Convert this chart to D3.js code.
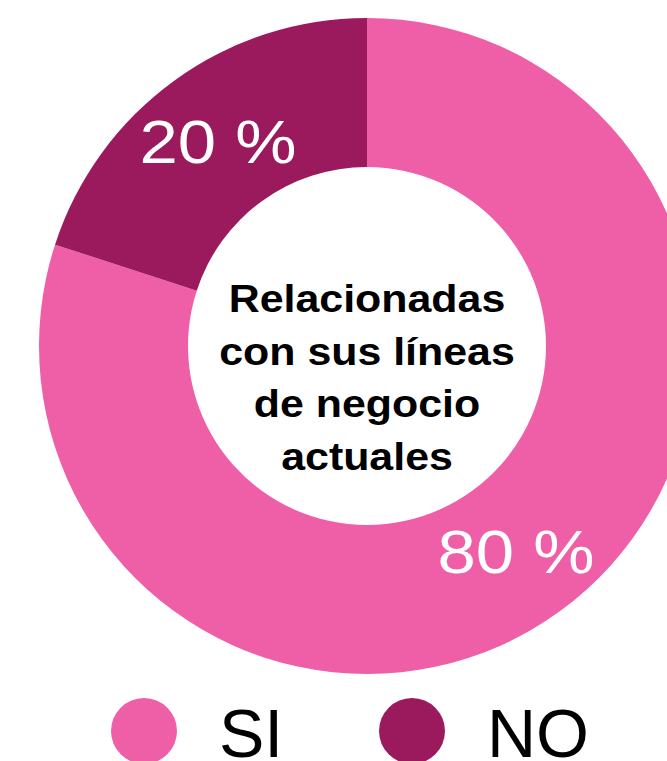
<!DOCTYPE html>
<html><head><meta charset="utf-8">
<script src="https://cdn.jsdelivr.net/npm/d3@7"></script>
<style>html,body{margin:0;padding:0;background:#fff;overflow:hidden}svg{display:block}</style>
</head><body>
<svg id="c" width="667" height="761"></svg>
<script>
const categories = ["SI", "NO"];
const values = [80, 20];
const valueLabels = ["80 %", "20 %"];
const centerLines = ["Relacionadas", "con sus líneas", "de negocio", "actuales"];
const colors = ["#EF5FA7", "#9B1A5E"];

const svg = d3.select("#c");
const cx = 367, cy = 346, rOuter = 328, rInner = 179;
const font = "'Liberation Sans', Arial, Helvetica, sans-serif";

const color = d3.scaleOrdinal().domain(categories).range(colors);
const pie = d3.pie().sort(null).value(d => d.v);
const data = categories.map((c, i) => ({c, v: values[i], label: valueLabels[i]}));
const arcs = pie(data);
const arc = d3.arc().innerRadius(rInner).outerRadius(rOuter);

const g = svg.append("g").attr("transform", `translate(${cx},${cy})`);
g.selectAll("path").data(arcs).join("path")
  .attr("d", arc).attr("fill", d => color(d.data.c));

const fs = 61;
g.selectAll("text.val").data(arcs).join("text").attr("class", "val")
  .attr("transform", d => `translate(${arc.centroid(d)[0]},${arc.centroid(d)[1] + fs * 0.36}) scale(1.13,1)`)
  .attr("text-anchor", "middle")
  .attr("font-family", font).attr("font-size", fs)
  .attr("fill", "#fff")
  .text(d => d.data.label);

const lh = 52.8, cfs = 39;
const ct = g.append("g");
centerLines.forEach((t, i) => {
  ct.append("text")
    .attr("transform", `translate(0,${-34.3 + i * lh}) scale(1.1,1)`)
    .attr("text-anchor", "middle")
    .attr("font-family", font).attr("font-weight", "bold")
    .attr("font-size", cfs).attr("fill", "#000")
    .text(t);
});

// legend
const legend = [
  {c: categories[0], cxp: 144, tx: 219},
  {c: categories[1], cxp: 412, tx: 487}
];
const lg = svg.append("g");
legend.forEach(l => {
  lg.append("circle").attr("cx", l.cxp).attr("cy", 731).attr("r", 33).attr("fill", color(l.c));
  lg.append("text").attr("x", l.tx).attr("y", 757)
    .attr("font-family", font).attr("font-size", 68).attr("fill", "#000")
    .text(l.c);
});
</script>
</body></html>
